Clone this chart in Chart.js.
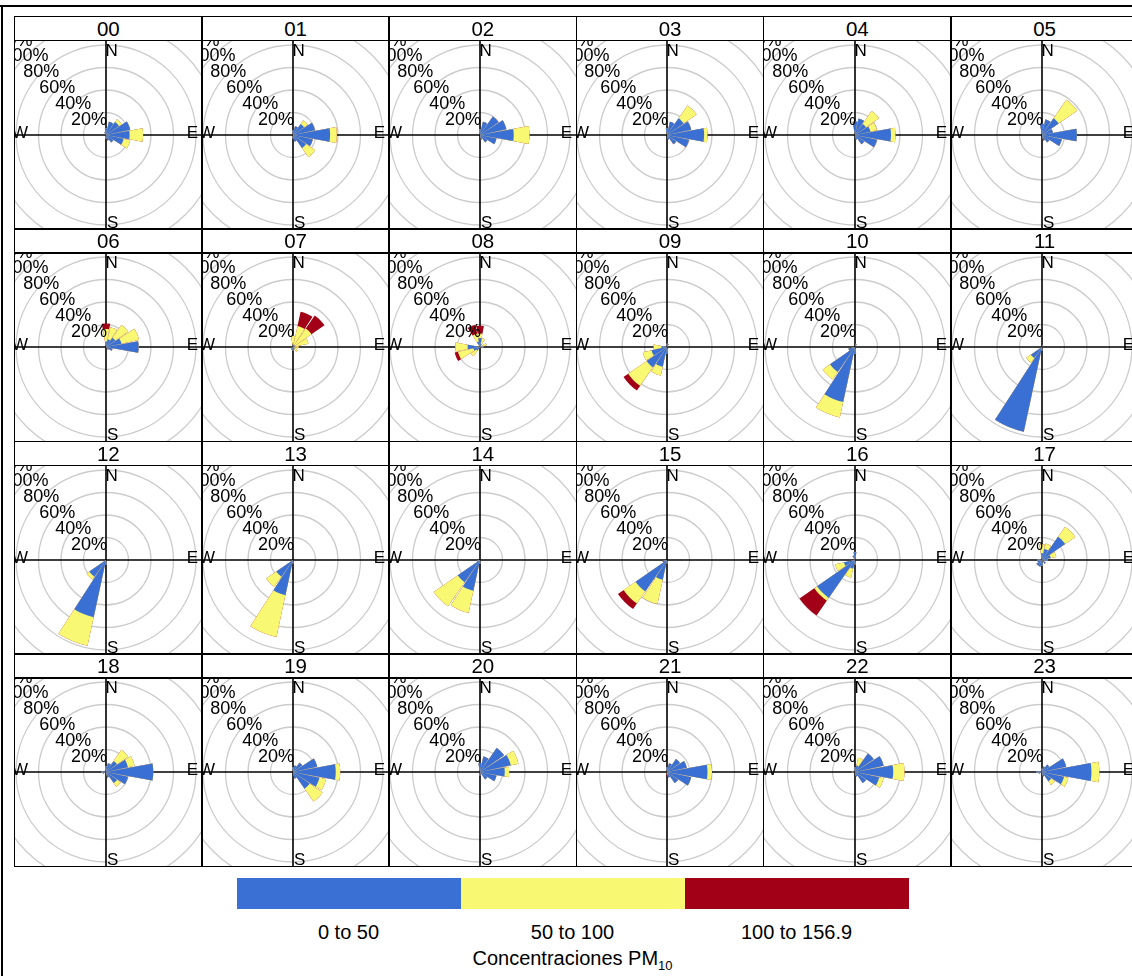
<!DOCTYPE html>
<html><head><meta charset="utf-8">
<script src="https://cdn.jsdelivr.net/npm/chart.js@4.4.1/dist/chart.umd.min.js"></script>
<style>
html,body{margin:0;padding:0;background:#fff;overflow:hidden;width:1132px;height:976px;}
#root{position:relative;width:1132px;height:976px;overflow:hidden;font-family:"Liberation Sans",Arial,sans-serif;color:#000;}
.strip{position:absolute;text-align:center;font-size:20.5px;line-height:24px;}
.plot{position:absolute;overflow:hidden;}
.plot canvas{position:absolute;}
.ln{position:absolute;background:#000;z-index:5;}
.key{position:absolute;}
.keytxt{position:absolute;font-size:20px;transform:translate(-50%,-50%);white-space:nowrap;}
</style>
</head><body><div id="root"></div>
<script>
// ---------------- data ----------------
const hours = ['00','01','02','03','04','05','06','07','08','09','10','11',
               '12','13','14','15','16','17','18','19','20','21','22','23'];
// 16 wind sectors, clockwise from North
const directions = ['N','NNE','NE','ENE','E','ESE','SE','SSE','S','SSW','SW','WSW','W','WNW','NW','NNW'];
const bandLabels = ['0 to 50','50 to 100','100 to 156.9'];
const keyTitle = 'Concentraciones PM';
const keyTitleSub = '10';
const radialTicks = [20,40,60,80,100,120];
const compass = ['N','E','S','W'];

// frequency (%) of each concentration band per hour and sector
const pm0to50 = [
  [6,12,14,22,21,16,8,5,3,0,0,0,0,0,0,3],
  [4,8,12,20,33,18,14,6,3,0,0,0,0,0,0,0],
  [5,12,20,24,30,15,8,4,0,0,0,0,0,0,0,0],
  [6,12,18,22,33,20,10,4,0,0,0,0,0,0,0,0],
  [12,15,12,14,32,20,10,4,0,0,0,0,0,0,0,0],
  [10,14,18,10,31,18,8,5,0,0,0,0,0,0,0,0],
  [5,7,10,14,29,6,3,0,0,0,0,0,0,0,0,0],
  [2,2,2,2,1,0,2,0,3,3,2,0,0,0,0,0],
  [8,3,0,2,3,2,0,0,0,0,4,6,11,0,0,5],
  [3,3,0,0,0,0,0,0,6,18,22,14,5,0,0,0],
  [0,3,0,0,0,0,0,0,6,50,27,6,0,0,0,0],
  [0,2,0,0,0,0,0,0,3,77,12,0,0,0,0,0],
  [0,0,0,0,0,0,0,0,4,52,18,0,0,0,0,0],
  [0,0,0,0,0,0,0,0,3,32,18,0,0,0,0,0],
  [0,0,0,0,0,0,0,0,3,28,24,3,0,0,0,0],
  [0,0,0,0,0,0,0,0,3,18,34,4,0,0,0,0],
  [7,0,0,0,0,0,0,0,4,8,41,10,0,0,0,4],
  [6,10,25,8,5,0,4,0,5,6,6,4,4,0,0,0],
  [5,8,12,20,42,20,12,5,0,0,0,3,4,0,0,0],
  [4,6,10,22,38,24,18,6,0,0,0,0,0,0,0,0],
  [8,14,26,28,22,15,8,0,3,0,0,0,0,0,0,0],
  [4,8,14,18,36,22,12,5,1,0,0,0,0,0,0,0],
  [4,6,20,26,34,22,12,4,0,0,0,0,3,0,0,0],
  [3,5,8,22,44,20,10,4,0,0,0,3,5,0,0,0]
];
const pm50to100 = [
  [0,0,3,0,12,6,0,0,0,0,0,0,0,0,0,0],
  [0,0,4,0,6,0,10,0,0,0,0,0,0,0,0,0],
  [0,0,0,0,14,0,0,0,0,0,0,0,0,0,0,0],
  [0,0,14,0,3,0,0,0,0,0,0,0,0,0,0,0],
  [0,0,14,6,4,0,0,0,0,0,0,0,0,0,0,0],
  [0,0,20,0,0,0,0,0,0,0,0,0,0,0,0,0],
  [11,11,14,16,0,0,0,0,0,0,0,0,0,0,0,0],
  [8,17,18,12,4,4,3,0,0,0,0,0,0,0,0,0],
  [4,5,0,4,0,0,0,0,0,0,6,14,11,0,0,7],
  [0,0,0,0,0,0,0,0,0,8,20,8,7,0,0,0],
  [0,0,0,0,0,0,0,0,0,14,8,0,0,0,0,0],
  [0,0,0,0,0,0,0,0,0,0,5,0,0,0,0,0],
  [0,0,0,0,0,0,0,0,0,26,3,0,0,0,0,0],
  [0,0,0,0,0,0,0,0,0,38,11,0,0,0,0,0],
  [0,0,0,0,0,0,0,0,0,20,26,0,0,0,0,0],
  [0,0,0,0,0,0,0,0,0,22,13,0,0,0,0,0],
  [0,0,0,0,0,0,0,0,0,8,3,8,0,0,0,0],
  [8,5,11,5,0,0,0,0,0,0,0,0,0,0,0,0],
  [0,0,12,6,0,0,4,0,0,0,0,0,0,0,0,0],
  [0,0,0,0,4,6,14,0,0,0,0,0,0,0,0,0],
  [0,0,0,7,4,0,0,0,0,0,0,0,0,0,0,0],
  [0,0,0,0,4,0,0,0,1,0,0,0,0,0,0,0],
  [0,7,0,0,10,4,0,0,0,0,0,0,0,0,0,0],
  [0,0,0,0,7,4,4,0,0,0,0,0,0,0,0,0]
];
const pm100to157 = [
  [0,0,0,0,0,0,0,0,0,0,0,0,0,0,0,0],
  [0,0,0,0,0,0,0,0,0,0,0,0,0,0,0,0],
  [0,0,0,0,0,0,0,0,0,0,0,0,0,0,0,0],
  [0,0,0,0,0,0,0,0,0,0,0,0,0,0,0,0],
  [0,0,0,0,0,0,0,0,0,0,0,0,0,0,0,0],
  [0,0,0,0,0,0,0,0,0,0,0,0,0,0,0,0],
  [5,0,0,0,0,0,0,0,0,0,0,0,0,0,0,0],
  [0,13,14,0,0,0,0,0,0,0,0,0,0,0,0,0],
  [7,0,0,0,0,0,0,0,0,0,0,3,0,0,0,8],
  [0,0,0,0,0,0,0,0,0,0,5,0,0,0,0,0],
  [0,0,0,0,0,0,0,0,0,0,0,0,0,0,0,0],
  [0,0,0,0,0,0,0,0,0,0,0,0,0,0,0,0],
  [0,0,0,0,0,0,0,0,0,0,0,0,0,0,0,0],
  [0,0,0,0,0,0,0,0,0,0,0,0,0,0,0,0],
  [0,0,0,0,0,0,0,0,0,0,0,0,0,0,0,0],
  [0,0,0,0,0,0,0,0,0,0,6,0,0,0,0,0],
  [0,0,0,0,0,0,0,0,0,0,16,0,0,0,0,0],
  [0,0,0,0,0,0,0,0,0,0,0,0,0,0,0,0],
  [0,0,0,0,0,0,0,0,0,0,0,0,0,0,0,0],
  [0,0,0,0,0,0,0,0,0,0,0,0,0,0,0,0],
  [0,0,0,0,0,0,0,0,0,0,0,0,0,0,0,0],
  [0,0,0,0,0,0,0,0,2,0,0,0,0,0,0,0],
  [0,0,0,0,0,0,0,0,0,0,0,0,0,0,0,0],
  [0,0,0,0,0,0,0,0,0,0,0,0,0,0,0,0]
];

// ---------------- styles / layout ----------------
const bandColors = ['#3a6fd4','#f8f873','#a20016'];
const FONT = '"Liberation Sans", Arial, sans-serif';
const L = {gridLeft:14.7, colW:187.25, top:16.7, rowH:212.5, stripH:24, plotH:188.5,
           cols:6, rows:4, canvas:270, axisX:91, line:1.6};
const SECTOR = 360 / directions.length;   // 22.5
const SEG = 0.92;                          // wedge fraction of sector

const root = document.getElementById('root');
function addDiv(cls, css, html){
  const d = document.createElement('div'); d.className = cls;
  Object.assign(d.style, css); if (html !== undefined) d.innerHTML = html;
  root.appendChild(d); return d;
}

const roseDecor = {
  id: 'roseDecor',
  beforeDatasetsDraw(chart){
    const s = chart.scales.r, ctx = chart.ctx;
    ctx.save();
    ctx.strokeStyle = '#000'; ctx.lineWidth = 1.6;
    ctx.beginPath();
    ctx.moveTo(0, s.yCenter); ctx.lineTo(chart.width, s.yCenter);
    ctx.moveTo(s.xCenter, 0); ctx.lineTo(s.xCenter, chart.height);
    ctx.stroke();
    ctx.restore();
  },
  afterDatasetsDraw(chart){
    const s = chart.scales.r, ctx = chart.ctx;
    const cx = s.xCenter, cy = s.yCenter;
    ctx.save();
    ctx.fillStyle = '#000';
    ctx.font = '18px ' + FONT;
    ctx.textAlign = 'center'; ctx.textBaseline = 'middle';
    radialTicks.forEach(v => {
      const r = s.getDistanceFromCenterForValue(v) * Math.SQRT1_2;
      ctx.fillText(v + '%', cx - r - 1, cy - r + 1);
    });
    ctx.font = '17px ' + FONT;
    ctx.textAlign = 'left';
    ctx.fillText(compass[0], cx - 0.5, cy - 83.5);
    ctx.fillText(compass[2], cx + 1, cy + 88.5);
    ctx.textAlign = 'center';
    ctx.fillText(compass[1], cx + 86.5, cy - 1.5);
    ctx.fillText(compass[3], cx - 86, cy - 1.5);
    ctx.restore();
  }
};

const segLabels = [];
directions.forEach(d => { segLabels.push(d); segLabels.push(''); });
function interleave(arr){ const out = []; arr.forEach(v => { out.push(v); out.push(0); }); return out; }
const segAngle = ctx => (ctx.dataIndex % 2 === 0) ? SECTOR * SEG : SECTOR * (1 - SEG);

hours.forEach((h, i) => {
  const c = i % L.cols, r = Math.floor(i / L.cols);
  const x0 = L.gridLeft + c * L.colW;
  const y0 = L.top + r * L.rowH;
  addDiv('strip', {left:x0+'px', top:y0+'px', width:L.colW+'px', height:L.stripH+'px'}, h);
  const plot = addDiv('plot', {left:x0+'px', top:(y0+L.stripH)+'px', width:L.colW+'px', height:L.plotH+'px'});
  const cv = document.createElement('canvas');
  cv.width = L.canvas; cv.height = L.canvas;
  cv.style.width = L.canvas+'px'; cv.style.height = L.canvas+'px';
  cv.style.left = (L.axisX - L.canvas/2) + 'px';
  cv.style.top = (L.plotH/2 - L.canvas/2) + 'px';
  plot.appendChild(cv);

  const b = pm0to50[i], y = pm50to100[i], rd = pm100to157[i];
  const cum1 = b.map(v => v);
  const cum2 = b.map((v,k) => v + y[k]);
  const cum3 = b.map((v,k) => v + y[k] + rd[k]);
  new Chart(cv, {
    type: 'polarArea',
    data: {
      labels: segLabels,
      datasets: [
        {label: bandLabels[0], data: interleave(cum1), backgroundColor: bandColors[0], borderWidth: 0, angle: segAngle},
        {label: bandLabels[1], data: interleave(cum2), backgroundColor: bandColors[1], borderWidth: 0, angle: segAngle},
        {label: bandLabels[2], data: interleave(cum3), backgroundColor: bandColors[2], borderWidth: 0, angle: segAngle}
      ]
    },
    options: {
      responsive: false, animation: false, events: [],
      devicePixelRatio: 1,
      layout: {padding: 0},
      plugins: {legend: {display: false}, tooltip: {enabled: false}},
      scales: {
        r: {
          min: 0, max: 120, startAngle: -SECTOR * SEG / 2,
          ticks: {display: false, stepSize: 20},
          grid: {color: '#cccccc', lineWidth: 1.3},
          angleLines: {display: false},
          pointLabels: {display: false}
        }
      }
    },
    plugins: [roseDecor]
  });
});

// panel borders
const bottom = L.top + L.rows * L.rowH;
for (let r = 0; r <= L.rows; r++) {
  const yy = L.top + r * L.rowH;
  addDiv('ln', {left:L.gridLeft-0.8+'px', top:(yy-0.8)+'px', width:(L.cols*L.colW)+'px', height:L.line+'px'});
  if (r < L.rows) addDiv('ln', {left:L.gridLeft-0.8+'px', top:(yy+L.stripH-0.8)+'px', width:(L.cols*L.colW)+'px', height:L.line+'px'});
}
for (let c = 0; c <= L.cols; c++) {
  const xx = L.gridLeft + c * L.colW;
  addDiv('ln', {left:(xx-0.8)+'px', top:(L.top-0.8)+'px', width:L.line+'px', height:(bottom-L.top+1.6)+'px'});
}
// outer frame
addDiv('ln', {left:'0px', top:'5px', width:'1132px', height:'1.6px'});
addDiv('ln', {left:'1px', top:'5px', width:'1.6px', height:'971px'});

// key (colour bar)
const keyX = 236.5, keyW = 672, keyY = 878, keyH = 31;
bandLabels.forEach((lab, k) => {
  const w = keyW / bandLabels.length;
  addDiv('key', {left:(keyX + k*w)+'px', top:keyY+'px', width:w+'px', height:keyH+'px', background:bandColors[k]});
  addDiv('keytxt', {left:(keyX + (k+0.5)*w)+'px', top:'931.5px'}, lab);
});
addDiv('keytxt', {left:(keyX + keyW/2)+'px', top:'960px'},
  keyTitle + '<sub style="font-size:13px;vertical-align:-5px">' + keyTitleSub + '</sub>');
</script>
</body></html>
